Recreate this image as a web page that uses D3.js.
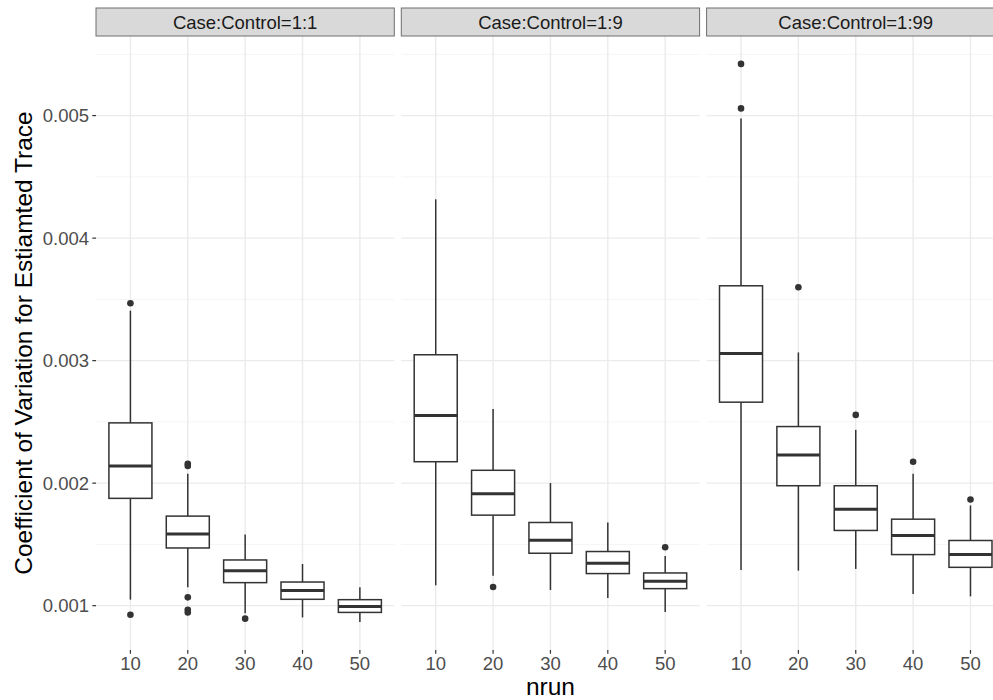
<!DOCTYPE html>
<html>
<head>
<meta charset="utf-8">
<script src="https://cdn.jsdelivr.net/npm/d3@7"></script>
<style>
  body { margin: 0; background: #fff; }
  svg { display: block; font-family: "Liberation Sans", Arial, sans-serif; }
</style>
</head>
<body>
<div id="chart"></div>
<script>
var ratios = ["Case:Control=1:1", "Case:Control=1:9", "Case:Control=1:99"];
var nrun = ["10", "20", "30", "40", "50"];

// one row per facet, one value per nrun
var whiskerLow = [
  [0.001049, 0.001150, 0.000939, 0.000904, 0.000866],
  [0.001166, 0.001245, 0.001128, 0.001062, 0.000948],
  [0.001291, 0.001286, 0.001300, 0.001095, 0.001076]
];
var q1 = [
  [0.001876, 0.001471, 0.001188, 0.001052, 0.000945],
  [0.002175, 0.001739, 0.001428, 0.001262, 0.001139],
  [0.002661, 0.001979, 0.001614, 0.001417, 0.001313]
];
var median = [
  [0.002140, 0.001586, 0.001286, 0.001123, 0.000994],
  [0.002552, 0.001913, 0.001534, 0.001346, 0.001199],
  [0.003059, 0.002230, 0.001788, 0.001573, 0.001417]
];
var q3 = [
  [0.002492, 0.001731, 0.001373, 0.001193, 0.001049],
  [0.003048, 0.002105, 0.001679, 0.001442, 0.001267],
  [0.003611, 0.002462, 0.001979, 0.001706, 0.001532]
];
var whiskerHigh = [
  [0.003408, 0.002077, 0.001581, 0.001340, 0.001150],
  [0.004317, 0.002606, 0.002001, 0.001679, 0.001406],
  [0.004977, 0.003067, 0.002435, 0.002077, 0.001818]
];
var outliers = [
  [[0.003468, 0.000926], [0.002159, 0.002140, 0.001068, 0.000967, 0.000945], [0.000894], [], []],
  [[], [0.001152], [], [], [0.001477]],
  [[0.005422, 0.005059], [0.003599], [0.002557], [0.002175], [0.001867]]
];

var yTicks = [0.001, 0.002, 0.003, 0.004, 0.005];
var yMinor = [0.0015, 0.0025, 0.0035, 0.0045, 0.0055];

var width = 993, height = 700;
var margin = {top: 36, left: 96, bottom: 50},
    panelW = 298.3,
    gap = 7,
    stripH = 28,
    panelH = height - margin.top - margin.bottom;

var svg = d3.select("#chart")
  .append("svg")
    .attr("width", width)
    .attr("height", height);

// y range from data, with ggplot's 5% expansion
var allVals = d3.merge([d3.merge(whiskerLow), d3.merge(whiskerHigh), d3.merge(outliers.map(function (p) { return d3.merge(p); }))]);
var lo = d3.min(allVals), hi = d3.max(allVals), pad = (hi - lo) * 0.05;

var y = d3.scaleLinear()
  .domain([lo - pad, hi + pad])
  .range([margin.top + panelH, margin.top]);

// discrete x with 0.6 units of expansion each side
var x = d3.scalePoint()
  .domain(nrun)
  .range([panelW * 0.6 / 5.2, panelW * 4.6 / 5.2]);
var boxW = x.step() * 0.75;

ratios.forEach(function (r, p) {
  var x0 = margin.left + p * (panelW + gap);
  var g = svg.append("g").attr("transform", "translate(" + x0 + ",0)");

  // grid
  g.selectAll(".minor").data(yMinor.filter(function (v) { return v < y.domain()[1]; }))
    .enter().append("line")
      .attr("x1", 0).attr("x2", panelW)
      .attr("y1", function (d) { return y(d); }).attr("y2", function (d) { return y(d); })
      .style("stroke", "#f2f2f2").style("stroke-width", 0.8);
  g.selectAll(".major").data(yTicks)
    .enter().append("line")
      .attr("x1", 0).attr("x2", panelW)
      .attr("y1", function (d) { return y(d); }).attr("y2", function (d) { return y(d); })
      .style("stroke", "#ebebeb").style("stroke-width", 1.4);
  g.selectAll(".vgrid").data(nrun)
    .enter().append("line")
      .attr("x1", function (d) { return x(d); }).attr("x2", function (d) { return x(d); })
      .attr("y1", margin.top).attr("y2", margin.top + panelH)
      .style("stroke", "#ebebeb").style("stroke-width", 1.4);

  // strip
  g.append("rect")
    .attr("x", 0).attr("y", margin.top - stripH)
    .attr("width", panelW).attr("height", stripH)
    .style("fill", "#d9d9d9").style("stroke", "#6e6e6e").style("stroke-width", 1);
  g.append("text")
    .attr("x", panelW / 2).attr("y", margin.top - stripH / 2)
    .attr("dy", "0.36em")
    .attr("text-anchor", "middle")
    .style("font-size", "18.5px").style("fill", "#1a1a1a")
    .text(r);

  var boxes = nrun.map(function (k, i) {
    return {k: k, lo: whiskerLow[p][i], q1: q1[p][i], med: median[p][i], q3: q3[p][i], hi: whiskerHigh[p][i], out: outliers[p][i]};
  });

  var bg = g.selectAll(".box").data(boxes).enter().append("g");
  bg.append("line")
    .attr("x1", function (d) { return x(d.k); }).attr("x2", function (d) { return x(d.k); })
    .attr("y1", function (d) { return y(d.q3); }).attr("y2", function (d) { return y(d.hi); })
    .style("stroke", "#333").style("stroke-width", 1.5);
  bg.append("line")
    .attr("x1", function (d) { return x(d.k); }).attr("x2", function (d) { return x(d.k); })
    .attr("y1", function (d) { return y(d.q1); }).attr("y2", function (d) { return y(d.lo); })
    .style("stroke", "#333").style("stroke-width", 1.5);
  bg.append("rect")
    .attr("x", function (d) { return x(d.k) - boxW / 2; })
    .attr("y", function (d) { return y(d.q3); })
    .attr("width", boxW)
    .attr("height", function (d) { return y(d.q1) - y(d.q3); })
    .style("fill", "#fff").style("stroke", "#333").style("stroke-width", 1.5);
  bg.append("line")
    .attr("x1", function (d) { return x(d.k) - boxW / 2; }).attr("x2", function (d) { return x(d.k) + boxW / 2; })
    .attr("y1", function (d) { return y(d.med); }).attr("y2", function (d) { return y(d.med); })
    .style("stroke", "#333").style("stroke-width", 3);
  bg.selectAll("circle").data(function (d) { return d.out.map(function (v) { return {k: d.k, v: v}; }); })
    .enter().append("circle")
      .attr("cx", function (d) { return x(d.k); })
      .attr("cy", function (d) { return y(d.v); })
      .attr("r", 3.3)
      .style("fill", "#333");

  // x ticks + labels
  g.selectAll(".xt").data(nrun).enter().append("line")
    .attr("x1", function (d) { return x(d); }).attr("x2", function (d) { return x(d); })
    .attr("y1", margin.top + panelH).attr("y2", margin.top + panelH + 3.7)
    .style("stroke", "#333").style("stroke-width", 1.2);
  g.selectAll(".xl").data(nrun).enter().append("text")
    .attr("x", function (d) { return x(d); })
    .attr("y", margin.top + panelH + 20)
    .attr("text-anchor", "middle")
    .style("font-size", "18.5px").style("fill", "#4d4d4d")
    .text(function (d) { return d; });
});

// y axis on the first panel
svg.selectAll(".yt").data(yTicks).enter().append("line")
  .attr("x1", margin.left - 3.7).attr("x2", margin.left)
  .attr("y1", function (d) { return y(d); }).attr("y2", function (d) { return y(d); })
  .style("stroke", "#333").style("stroke-width", 1.2);
svg.selectAll(".yl").data(yTicks).enter().append("text")
  .attr("x", margin.left - 7)
  .attr("y", function (d) { return y(d); })
  .attr("dy", "0.36em")
  .attr("text-anchor", "end")
  .style("font-size", "18.5px").style("fill", "#4d4d4d")
  .text(d3.format(".3f"));

// axis titles
svg.append("text")
  .attr("transform", "translate(32," + (margin.top + panelH / 2) + ") rotate(-90)")
  .attr("text-anchor", "middle")
  .style("font-size", "24.5px").style("fill", "#000")
  .text("Coefficient of Variation for Estiamted Trace");
svg.append("text")
  .attr("x", margin.left + (3 * panelW + 2 * gap) / 2)
  .attr("y", 695)
  .attr("text-anchor", "middle")
  .style("font-size", "24.5px").style("fill", "#000")
  .text("nrun");
</script>
</body>
</html>
